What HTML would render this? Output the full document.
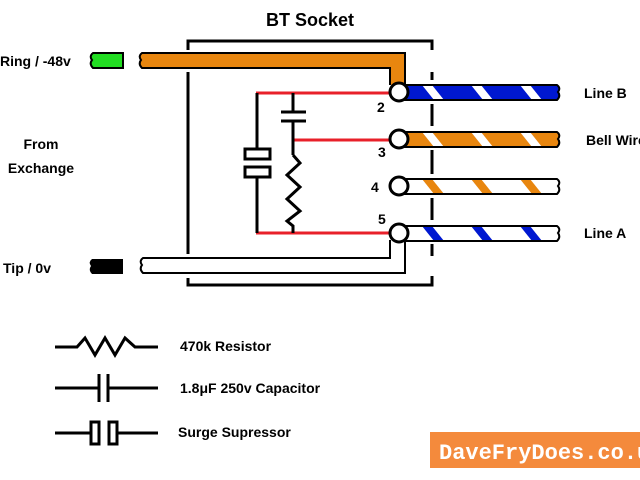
<!DOCTYPE html>
<html><head><style>body{margin:0;background:#fff}svg{display:block}text{font-family:"Liberation Sans",sans-serif;font-weight:bold}</style></head><body>
<svg width="640" height="480" viewBox="0 0 640 480">
<defs>
<pattern id="pb" width="49" height="15" patternUnits="userSpaceOnUse" patternTransform="translate(20,85)"><rect width="49" height="15" fill="#0018d0"/><polygon points="10,0 20,0 32,15 22,15" fill="#fff"/></pattern>
<pattern id="po" width="49" height="15" patternUnits="userSpaceOnUse" patternTransform="translate(20,132)"><rect width="49" height="15" fill="#e8860f"/><polygon points="10,0 20,0 32,15 22,15" fill="#fff"/></pattern>
<pattern id="pw" width="49" height="15" patternUnits="userSpaceOnUse" patternTransform="translate(20,179)"><rect width="49" height="15" fill="#fff"/><polygon points="10,0 20,0 32,15 22,15" fill="#e8860f"/></pattern>
<pattern id="pa" width="49" height="15" patternUnits="userSpaceOnUse" patternTransform="translate(20,226)"><rect width="49" height="15" fill="#fff"/><polygon points="10,0 20,0 32,15 22,15" fill="#0018d0"/></pattern>
</defs>
<text x="310" y="26" font-size="18" text-anchor="middle">BT Socket</text>
<g stroke="#000" stroke-width="3" fill="none">
<polyline points="188,50 188,41 432,41 432,50"/>
<line x1="188" y1="72" x2="188" y2="254"/>
<polyline points="188,278 188,285 432,285 432,276"/>
<line x1="432" y1="72" x2="432" y2="80"/>
<line x1="432" y1="104" x2="432" y2="126"/>
<line x1="432" y1="150" x2="432" y2="174"/>
<line x1="432" y1="198" x2="432" y2="220"/>
<line x1="432" y1="244" x2="432" y2="256"/>
</g>
<path d="M123,53 L93,53 Q89,56 92,60 Q89,64 93,68 L123,68 Z" fill="#22dd22" stroke="#000" stroke-width="2"/>
<path d="M123,259 L92,259 Q88,262 91,266 Q88,270 92,274 L123,274 Z" fill="#000"/>
<path d="M405,85 L405,53 L142,53 Q138,56 141,60 Q138,64 142,68 L390,68 L390,85" fill="#e8860f" stroke="#000" stroke-width="2"/>
<path d="M390,240 L390,258 L143,258 Q139,261 142,265 Q139,269 143,273 L405,273 L405,240" fill="#fff" stroke="#000" stroke-width="2"/>
<path d="M405,85 L557,85 Q561,88 558,92 Q561,96 557,100 L405,100 Z" fill="url(#pb)" stroke="#000" stroke-width="2"/>
<path d="M405,132 L557,132 Q561,135 558,139 Q561,143 557,147 L405,147 Z" fill="url(#po)" stroke="#000" stroke-width="2"/>
<path d="M405,179 L557,179 Q561,182 558,186 Q561,190 557,194 L405,194 Z" fill="url(#pw)" stroke="#000" stroke-width="2"/>
<path d="M405,226 L557,226 Q561,229 558,233 Q561,237 557,241 L405,241 Z" fill="url(#pa)" stroke="#000" stroke-width="2"/>
<g stroke="#e8202a" stroke-width="3">
<line x1="256" y1="93" x2="391" y2="93"/>
<line x1="293" y1="140" x2="391" y2="140"/>
<line x1="256" y1="233" x2="391" y2="233"/>
</g>
<g stroke="#000" stroke-width="3" fill="none">
<line x1="257" y1="93" x2="257" y2="150"/>
<line x1="257" y1="178" x2="257" y2="233"/>
<rect x="245" y="149" width="25" height="10" fill="#fff"/>
<rect x="245" y="167" width="25" height="10" fill="#fff"/>
<line x1="293" y1="93" x2="293" y2="112"/>
<line x1="281" y1="112" x2="306" y2="112"/>
<line x1="281" y1="121" x2="306" y2="121"/>
<line x1="293" y1="121" x2="293" y2="155"/>
<polyline points="293,155 300,163 287,175 300,187 287,199 300,211 287,221 293,226 293,233"/>
</g>
<g fill="#fff" stroke="#000" stroke-width="3">
<circle cx="399" cy="92" r="9"/><circle cx="399" cy="139" r="9"/><circle cx="399" cy="186" r="9"/><circle cx="399" cy="233" r="9"/>
</g>
<g font-size="14">
<text x="377" y="112">2</text><text x="378" y="157">3</text><text x="371" y="192">4</text><text x="378" y="224">5</text>
<text x="0" y="66">Ring / -48v</text>
<text x="41" y="149" text-anchor="middle">From</text>
<text x="41" y="173" text-anchor="middle">Exchange</text>
<text x="3" y="273">Tip / 0v</text>
<text x="584" y="98">Line B</text>
<text x="586" y="145">Bell Wire</text>
<text x="584" y="238">Line A</text>
<text x="180" y="351">470k Resistor</text>
<text x="180" y="393">1.8μF 250v Capacitor</text>
<text x="178" y="437">Surge Supressor</text>
</g>
<g stroke="#000" stroke-width="3" fill="none">
<polyline points="55,347 77,347 85,338 95,355 105,338 115,355 125,338 135,347 158,347"/>
<line x1="55" y1="388" x2="99" y2="388"/><line x1="99" y1="374" x2="99" y2="402"/>
<line x1="108" y1="374" x2="108" y2="402"/><line x1="108" y1="388" x2="158" y2="388"/>
<line x1="55" y1="433" x2="91" y2="433"/><rect x="91" y="422" width="8" height="22"/>
<rect x="109" y="422" width="8" height="22"/><line x1="117" y1="433" x2="158" y2="433"/>
</g>
<rect x="430" y="432" width="210" height="36" fill="#f48a3c"/>
<text x="439" y="459" font-size="22" fill="#fff" style="font-family:'Liberation Mono',monospace;font-weight:bold">DaveFryDoes.co.uk</text>
</svg>
</body></html>
